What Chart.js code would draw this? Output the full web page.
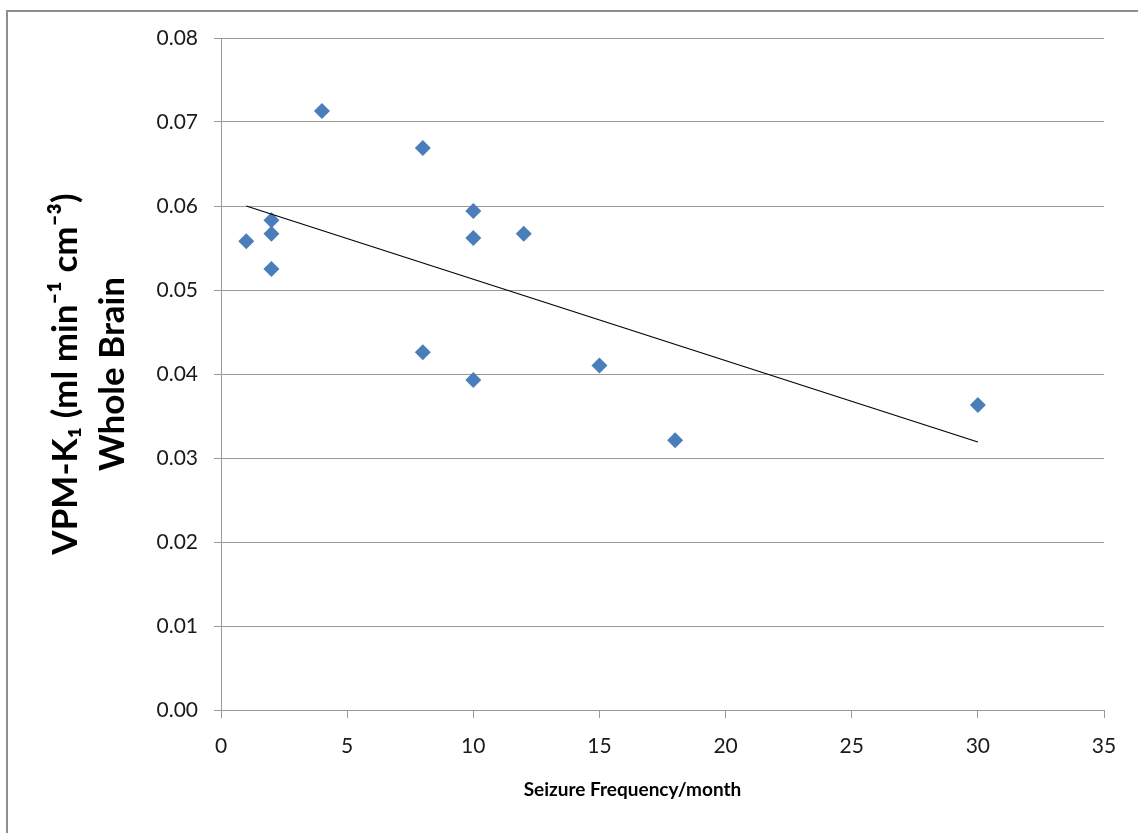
<!DOCTYPE html>
<html>
<head>
<meta charset="utf-8">
<script src="https://cdn.jsdelivr.net/npm/chart.js"></script>
<style>
  body { margin: 0; background: #fff; }
  #wrap { position: relative; width: 1138px; height: 833px; overflow: hidden; }
  #frame {
    position: absolute; left: 6px; top: 10px; width: 1200px; height: 900px;
    border-left: 2px solid #8e8e8e; border-top: 2px solid #8e8e8e;
    pointer-events: none;
  }
</style>
</head>
<body>
<div id="wrap">
  <canvas id="myChart" width="1138" height="833"></canvas>
  <div id="frame"></div>
</div>
<script>
"use strict";

// seizure frequency (per month) and whole-brain K1
let freq = [1, 2, 2, 2, 4, 8, 8, 10, 10, 10, 12, 15, 18, 30];
let k1 = [0.0558, 0.0583, 0.0567, 0.0525, 0.0713, 0.0669, 0.0426, 0.0594, 0.0562, 0.0393, 0.0567, 0.0410, 0.0321, 0.0363];

// linear trend line ends
let trendX = [1, 30];
let trendY = [0.0600, 0.0319];

let xTicks = [0, 5, 10, 15, 20, 25, 30, 35];
let yTicks = [0, 0.01, 0.02, 0.03, 0.04, 0.05, 0.06, 0.07, 0.08];

const xTitle = "Seizure Frequency/month";
const yTitle = ["VPM-K\u2081 (ml min\u207B\u00B9 cm\u207B\u00B3)", "Whole Brain"];

const pts = freq.map((x, i) => ({ x: x, y: k1[i] }));
const trend = trendX.map((x, i) => ({ x: x, y: trendY[i] }));

// x-axis title sits a little left of centre in the original
const xTitlePlugin = {
  id: "xTitle",
  afterDraw(chart) {
    const ctx = chart.ctx;
    const area = chart.chartArea;
    ctx.save();
    ctx.font = "bold 19px Lato";
    ctx.fillStyle = "#000";
    ctx.textAlign = "center";
    ctx.textBaseline = "middle";
    ctx.fillText(xTitle, area.left + area.width * 0.466, 790);
    ctx.restore();
  },
};

const ctx = document.getElementById("myChart");

new Chart(ctx, {
  type: "scatter",
  data: {
    datasets: [
      {
        label: "K1",
        data: pts,
        pointStyle: "rectRot",
        pointRadius: 8,
        pointHoverRadius: 8,
        pointBorderWidth: 0,
        backgroundColor: "#4a7ebb",
        borderColor: "#4a7ebb",
        order: 2,
      },
      {
        type: "line",
        label: "Linear",
        data: trend,
        borderColor: "#000",
        borderWidth: 1.2,
        pointRadius: 0,
        fill: false,
        order: 1,
      },
    ],
  },
  plugins: [xTitlePlugin],
  options: {
    responsive: false,
    animation: false,
    layout: { padding: { top: 38, right: 34, left: 0, bottom: 0 } },
    plugins: {
      legend: { display: false },
      tooltip: { enabled: false },
    },
    scales: {
      x: {
        type: "linear",
        min: 0,
        max: 35,
        afterFit: (s) => { s.height = 123; },
        afterBuildTicks: (s) => { s.ticks = xTicks.map((v) => ({ value: v })); },
        grid: { drawOnChartArea: false, drawTicks: true, tickLength: 8, color: "#999" },
        border: { display: true, color: "#999", width: 1 },
        ticks: { color: "#1a1a1a", font: { family: "Lato", size: 21 }, padding: 16 },
      },
      y: {
        min: 0,
        max: 0.08,
        afterFit: (s) => { s.width = 221; },
        afterBuildTicks: (s) => { s.ticks = yTicks.map((v) => ({ value: v })); },
        grid: { color: "#999", tickLength: 7 },
        border: { display: true, color: "#999", width: 1 },
        ticks: {
          color: "#1a1a1a",
          font: { family: "Lato", size: 21 },
          padding: 16,
          callback: (v) => v.toFixed(2),
        },
        title: {
          display: true,
          text: yTitle,
          color: "#000",
          font: { family: "Lato", size: 35, weight: "bold", lineHeight: 1.343 },
          padding: { top: 42, bottom: 0 },
        },
      },
    },
  },
});
</script>
</body>
</html>
